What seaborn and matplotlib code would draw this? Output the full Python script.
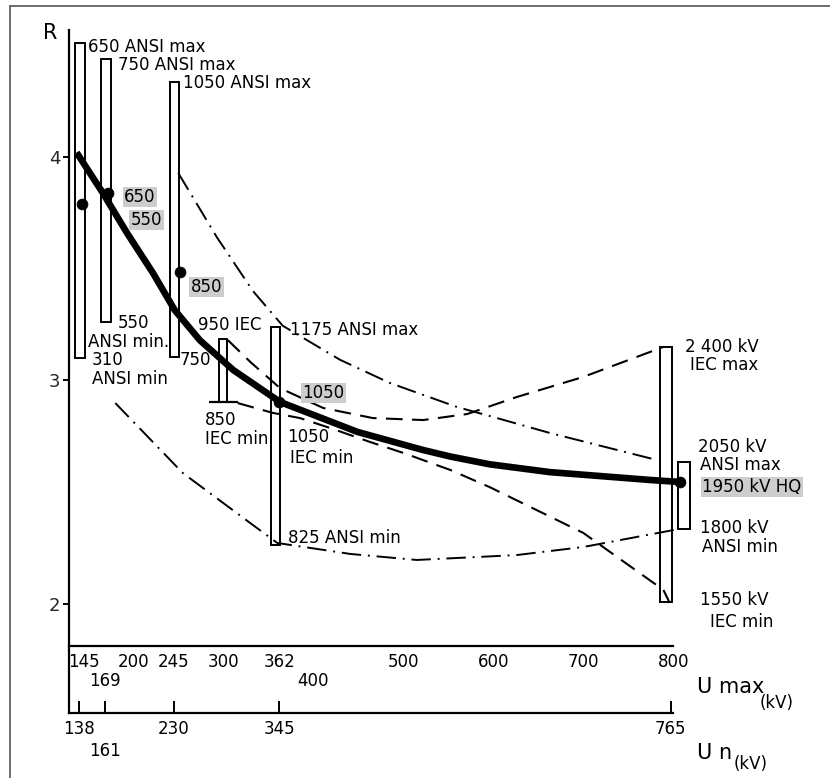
import numpy as np
import pandas as pd
import matplotlib
matplotlib.use("Agg")
import matplotlib.pyplot as plt
from matplotlib.lines import Line2D
import seaborn as sns

# ---------------- data ----------------
UMAX_MAJOR = [145, 200, 245, 300, 362, 500, 600, 700, 800]
UMAX_MINOR = [169, 400]
UN_MAJOR_POS = [140, 245, 362, 797]
UN_MAJOR_LAB = ["138", "230", "345", "765"]
UN_MINOR_POS = [169]
UN_MINOR_LAB = ["161"]
R_TICKS = [2, 3, 4]

# ranges of R per voltage (bars)
BAR_KV = [141, 170, 246, 300, 358, 792, 812]
BAR_RMIN = [3.10, 3.26, 3.105, 2.905, 2.265, 2.01, 2.335]
BAR_RMAX = [4.51, 4.44, 4.335, 3.185, 3.24, 3.15, 2.635]

# thick main curve
MAIN_KV = [137, 166, 193, 222, 246, 274, 311, 363, 449, 522, 552, 596, 663, 774, 807]
MAIN_R = [4.02, 3.84, 3.66, 3.48, 3.315, 3.18, 3.047, 2.904, 2.77, 2.689, 2.66, 2.625, 2.59, 2.555, 2.546]

# dash-dot upper (ANSI max)
ANSI_MAX_KV = [250, 293, 333, 366, 430, 485, 560, 596, 663, 782]
ANSI_MAX_R = [3.928, 3.64, 3.40, 3.245, 3.092, 2.989, 2.881, 2.841, 2.765, 2.644]

# dash-dot lower (ANSI min)
ANSI_MIN_KV = [180, 255, 330, 360, 441, 515, 626, 700, 807]
ANSI_MIN_R = [2.899, 2.586, 2.362, 2.273, 2.224, 2.197, 2.219, 2.255, 2.336]

# dashed upper (IEC max)
IEC_MAX_KV = [305, 330, 363, 411, 466, 522, 571, 626, 700, 789]
IEC_MAX_R = [3.181, 3.083, 2.966, 2.877, 2.832, 2.823, 2.85, 2.926, 3.016, 3.15]

# dashed lower (IEC min)
IEC_MIN_KV = [316, 355, 385, 419, 463, 500, 552, 596, 700, 789, 796]
IEC_MIN_R = [2.899, 2.855, 2.832, 2.787, 2.725, 2.676, 2.6, 2.523, 2.318, 2.063, 2.005]

DOT_KV = [143, 172, 252, 362, 807]
DOT_R = [3.79, 3.84, 3.487, 2.904, 2.546]

# ---------------- style ----------------
sns.set_theme(style="white")
plt.rcParams["font.family"] = ["DejaVu Sans"]

W, H = 830, 778
fig = plt.figure(figsize=(W / 100, H / 100), dpi=100)
ax = fig.add_axes([68.5 / W, 1 - 713 / H, (673.3 - 68.5) / W, (713 - 30) / H])

# bars
bar_w = [11, 11, 10, 9, 10, 13, 13]
for kv, lo, hi, w in zip(BAR_KV, BAR_RMIN, BAR_RMAX, bar_w):
    ax.bar(kv, hi - lo, bottom=lo, width=w, facecolor="white",
           edgecolor="black", linewidth=1.4, zorder=2, clip_on=False)
# T-foot of the 950 IEC bar
ax.hlines(BAR_RMIN[3], 284, 316, colors="black", linewidth=1.6, zorder=3)

# curves
def curve(kv, r, **kw):
    df = pd.DataFrame({"kV": kv, "R": r})
    sns.lineplot(data=df, x="kV", y="R", sort=False, estimator=None, ax=ax,
                 color="black", clip_on=False, **kw)

curve(ANSI_MAX_KV, ANSI_MAX_R, linewidth=1.4, linestyle=(0, (10, 3.5, 1, 3.5)), zorder=4)
curve(ANSI_MIN_KV, ANSI_MIN_R, linewidth=1.4, linestyle=(0, (10, 3.5, 1, 3.5)), zorder=4)
curve(IEC_MAX_KV, IEC_MAX_R, linewidth=1.5, linestyle=(0, (8, 4.5)), zorder=4)
curve(IEC_MIN_KV, IEC_MIN_R, linewidth=1.5, linestyle=(0, (8, 4.5)), zorder=4)
curve(MAIN_KV, MAIN_R, linewidth=4.8, zorder=5, solid_capstyle="butt",
      solid_joinstyle="round")

sns.scatterplot(x=DOT_KV, y=DOT_R, ax=ax, s=60, color="black",
                edgecolor="black", zorder=6, clip_on=False)

ax.set_xlim(128, 800)
ax.set_ylim(1.5123, 4.5682)
ax.set_facecolor("white")
ax.set_xlabel("")

for s in ["top", "right"]:
    ax.spines[s].set_visible(False)
for s in ["left", "bottom"]:
    ax.spines[s].set_color("black")
    ax.spines[s].set_linewidth(1.6)
ax.spines["bottom"].set_position(("data", 1.812))

# x axis (U max)
ax.set_xticks(UMAX_MAJOR, labels=[str(v) for v in UMAX_MAJOR])
ax.set_xticks(UMAX_MINOR, labels=[str(v) for v in UMAX_MINOR], minor=True)
ax.tick_params(axis="x", which="both", direction="in", length=9, width=1.4,
               color="black", labelsize=12, labelcolor="black")
ax.tick_params(axis="x", which="major", pad=5)
ax.tick_params(axis="x", which="minor", pad=19)

# y axis
ax.set_yticks(R_TICKS, labels=[str(v) for v in R_TICKS])
ax.tick_params(axis="y", direction="out", length=4, width=1.4, color="black",
               labelsize=13, pad=2, left=True)
ax.set_ylabel("R", rotation=0, fontsize=15, color="black")
ax.yaxis.set_label_coords(-0.03, 0.981)

# second x axis (U n)
sec = ax.secondary_xaxis("bottom")
sec.set_xticks(UN_MAJOR_POS, labels=UN_MAJOR_LAB)
sec.set_xticks(UN_MINOR_POS, labels=UN_MINOR_LAB, minor=True)
sec.tick_params(axis="x", which="both", direction="in", length=9, width=1.4,
                color="black", labelsize=12, labelcolor="black")
sec.tick_params(axis="x", which="major", pad=5)
sec.tick_params(axis="x", which="minor", pad=21)
sec.spines["bottom"].set_linewidth(1.6)
sec.spines["bottom"].set_color("black")
sec.set_xlabel("")

# labels
def lab(kv, r, s, ha="left", grey=False, size=12):
    kw = {}
    if grey:
        kw["bbox"] = dict(facecolor="#cdcdcd", edgecolor="none", pad=1.0)
    ax.text(kv, r, s, ha=ha, va="center", fontsize=size, color="black",
            clip_on=False, zorder=7, **kw)

lab(149.7, 4.492, "650 ANSI max")
lab(183, 4.412, "750 ANSI max")
lab(255.2, 4.331, "1050 ANSI max")
lab(207.5, 3.821, "650", ha="center", grey=True)
lab(214.7, 3.718, "550", ha="center", grey=True)
lab(281.3, 3.418, "850", ha="center", grey=True)
lab(411.3, 2.944, "1050", ha="center", grey=True)
lab(183, 3.257, "550")
lab(149.6, 3.172, "ANSI min.")
lab(154.1, 3.092, "310")
lab(154.1, 3.007, "ANSI min")
lab(251.9, 3.092, "750")
lab(306.9, 3.248, "950 IEC", ha="center")
lab(279.7, 2.823, "850")
lab(279.7, 2.738, "IEC min.")
lab(374.1, 3.226, "1175 ANSI max")
lab(370.8, 2.747, "1050")
lab(374.1, 2.653, "IEC min")
lab(371.9, 2.295, "825 ANSI min")
lab(812.6, 3.150, "2 400 kV")
lab(818.1, 3.069, "IEC max")
lab(827.4, 2.702, "2050 kV")
lab(829.7, 2.622, "ANSI max")
lab(831.9, 2.523, "1950 kV HQ", grey=True)
lab(829.7, 2.340, "1800 kV")
lab(831.9, 2.255, "ANSI min")
lab(829.7, 2.018, "1550 kV")
lab(840.8, 1.919, "IEC min")

# axis titles on the right
fig.text(697 / W, 1 - 687 / H, "U max", fontsize=15, ha="left", va="center", color="black")
fig.text(760 / W, 1 - 703 / H, "(kV)", fontsize=12, ha="left", va="center", color="black")
fig.text(697 / W, 1 - 753 / H, "U n", fontsize=15, ha="left", va="center", color="black")
fig.text(734 / W, 1 - 764 / H, "(kV)", fontsize=12, ha="left", va="center", color="black")

# scan frame
fig.add_artist(Line2D([10 / W, 10 / W], [0, 1 - 6 / H], transform=fig.transFigure,
                      color="#555555", linewidth=1.2))
fig.add_artist(Line2D([10 / W, 1], [1 - 6 / H, 1 - 6 / H], transform=fig.transFigure,
                      color="#555555", linewidth=1.2))

fig.savefig("out.png", dpi=100, facecolor="white")
